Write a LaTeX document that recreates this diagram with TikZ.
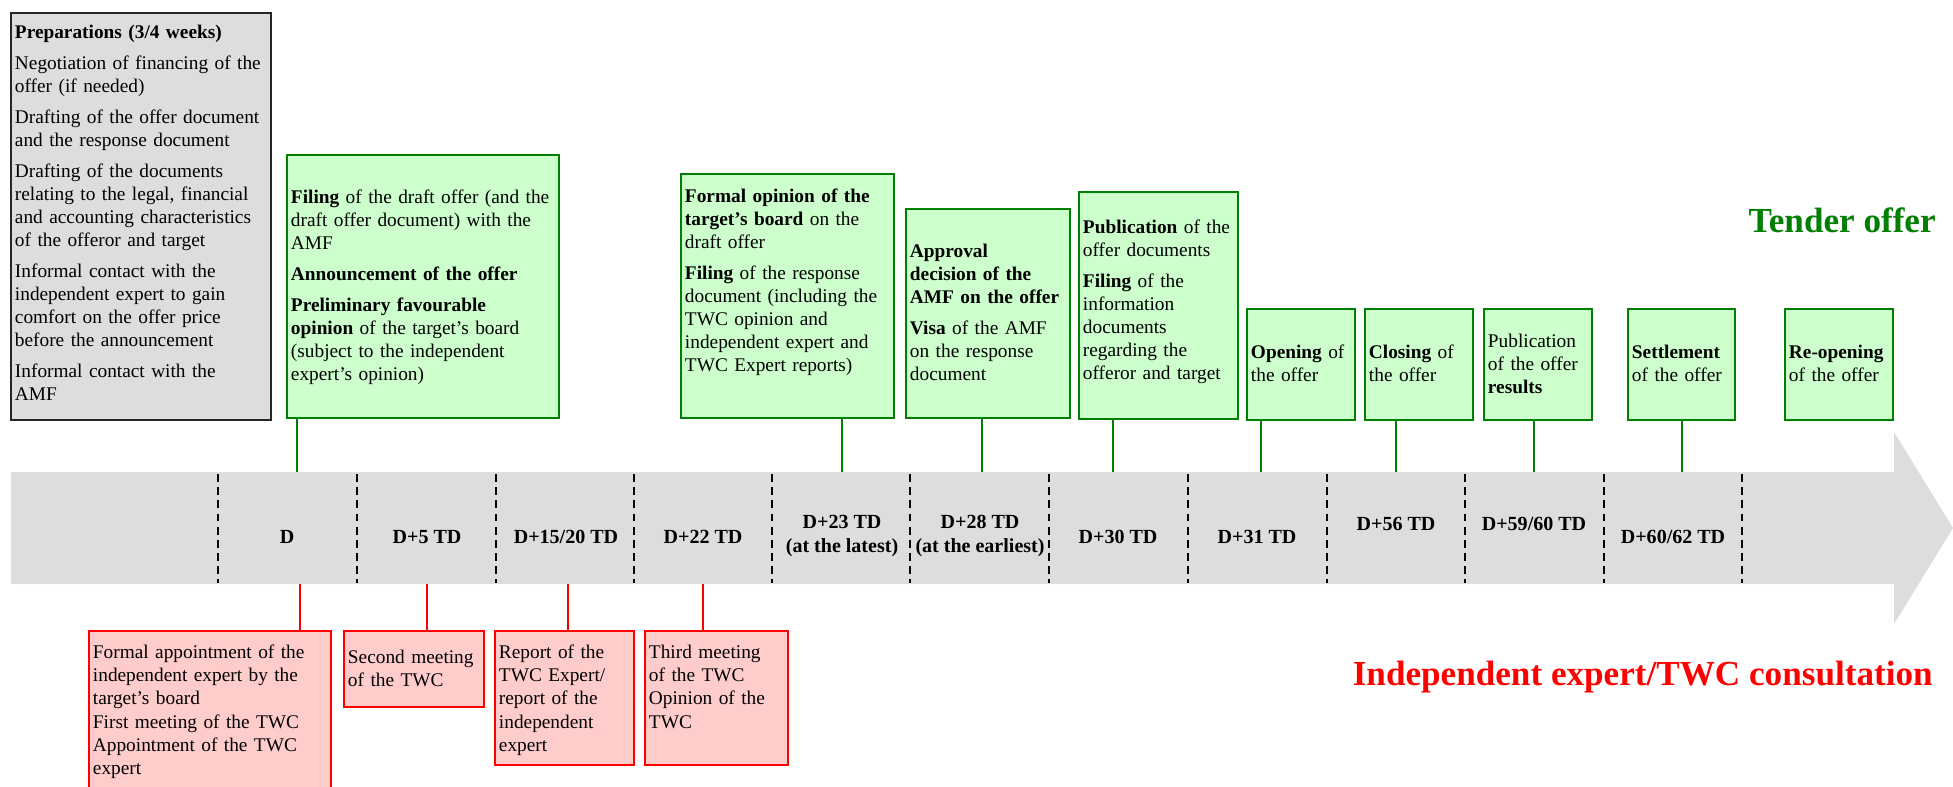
\documentclass[tikz,border=0pt]{standalone}
\usepackage{fontspec}
\setmainfont{Liberation Serif}
\definecolor{TenderGreen}{HTML}{008000}
\definecolor{TenderFill}{HTML}{CCFFCC}
\definecolor{ExpertRed}{HTML}{FF0000}
\definecolor{ExpertFill}{HTML}{FFCCCC}
\definecolor{PrepFill}{HTML}{DDDDDD}
\definecolor{BandGrey}{HTML}{DDDDDD}
\newcommand{\boxfont}{\fontsize{11}{13.1}\selectfont}
\tikzset{
prepbox/.style={draw=black!85, line width=1.1pt, fill=PrepFill, align=left, anchor=north west, inner xsep=0.08cm, inner ysep=0pt, font=\boxfont},
tenderbox/.style={draw=TenderGreen, line width=1.1pt, fill=TenderFill, align=left, anchor=north west, inner xsep=0.08cm, inner ysep=0pt, font=\boxfont},
tendersmall/.style={tenderbox, text width=2.00cm, text height=1.00cm, text depth=1.22cm},
expertbox/.style={draw=ExpertRed, line width=1.1pt, fill=ExpertFill, align=left, anchor=north west, inner xsep=0.08cm, inner ysep=0pt, font=\boxfont},
tenderlink/.style={draw=TenderGreen, line width=1.1pt},
expertlink/.style={draw=ExpertRed, line width=1.1pt},
daysep/.style={draw=black, line width=1pt, dash pattern=on 4.5pt off 3pt},
daylabel/.style={font={\fontsize{11.4}{13.4}\selectfont\bfseries}, align=center, inner sep=0pt},
headline/.style={font={\fontsize{20}{24}\selectfont\bfseries}, inner sep=0pt, anchor=base east}
}

\begin{document}
\begin{tikzpicture}[x=0.02cm, y=-0.02cm]
  \useasboundingbox (0,0) rectangle (1953,787);
  \clip (0,0) rectangle (1953,787);
  % timeline band
  \fill[BandGrey] (11,472) -- (1894,472) -- (1894,432) -- (1953,528) -- (1894,624) -- (1894,584) -- (11,584) -- cycle;
  \foreach \x in {218,357,496,634,772,910,1049,1188,1327,1465,1604,1742}
    \draw[daysep] (\x,474) -- (\x,583);
  \node[daylabel] (dD) at (287,537) {D};
  \node[daylabel] (d5) at (427,537) {D+5 TD};
  \node[daylabel] (d15) at (566,537) {D+15/20 TD};
  \node[daylabel] (d22) at (703,537) {D+22 TD};
  \node[daylabel] (d23) at (842,536) {D+23 TD\\(at the latest)};
  \node[daylabel] (d28) at (980,536) {D+28 TD\\(at the earliest)};
  \node[daylabel] (d30) at (1118,537) {D+30 TD};
  \node[daylabel] (d31) at (1257,537) {D+31 TD};
  \node[daylabel] (d56) at (1396,524) {D+56 TD};
  \node[daylabel] (d59) at (1534,524) {D+59/60 TD};
  \node[daylabel] (d60) at (1673,537) {D+60/62 TD};
  % preparations
  \node[prepbox, text width=5.04cm, text height=0.52cm, text depth=7.62cm] (prep) at (10,12) {\textbf{Preparations (3/4 weeks)}\\[4.5pt]
    Negotiation of financing of the\\offer (if needed)\\[4.5pt]
    Drafting of the offer document\\and the response document\\[4.5pt]
    Drafting of the documents\\relating to the legal, financial\\and accounting characteristics\\of the offeror and target\\[4.5pt]
    Informal contact with the\\independent expert to gain\\comfort on the offer price\\before the announcement\\[4.5pt]
    Informal contact with the\\AMF};
  % tender offer steps
  \node[tenderbox, text width=5.28cm, text height=0.98cm, text depth=4.28cm] (filing) at (286,154) {\textbf{Filing} of the draft offer (and the\\draft offer document) with the\\AMF\\[4.5pt]
    \textbf{Announcement of the offer}\\[4.5pt]
    \textbf{Preliminary favourable}\\\textbf{opinion} of the target's board\\(subject to the independent\\expert's opinion)};
  \node[tenderbox, text width=4.10cm, text height=0.58cm, text depth=4.30cm] (formal) at (680,173) {\textbf{Formal opinion of the}\\\textbf{target's board} on the\\draft offer\\[4.5pt]
    \textbf{Filing} of the response\\document (including the\\TWC opinion and\\independent expert and\\TWC Expert reports)};
  \node[tenderbox, text width=3.12cm, text height=0.98cm, text depth=3.20cm] (approval) at (905,208) {\textbf{Approval}\\\textbf{decision of the}\\\textbf{AMF on the offer}\\[4.5pt]
    \textbf{Visa} of the AMF\\on the response\\document};
  \node[tenderbox, text width=3.02cm, text height=0.84cm, text depth=3.70cm] (publish) at (1078,191) {\textbf{Publication} of the\\offer documents\\[4.5pt]
    \textbf{Filing} of the\\information\\documents\\regarding the\\offeror and target};
  \node[tendersmall] (opening) at (1246,308) {\textbf{Opening} of\\the offer};
  \node[tendersmall] (closing) at (1364,308) {\textbf{Closing} of\\the offer};
  \node[tendersmall, text height=0.78cm, text depth=1.44cm] (results) at (1483,308) {Publication\\of the offer\\\textbf{results}};
  \node[tendersmall, text width=1.98cm] (settle) at (1627,308) {\textbf{Settlement}\\of the offer};
  \node[tendersmall] (reopen) at (1784,308) {\textbf{Re-opening}\\of the offer};
  \node[headline, text=TenderGreen] (tenderhead) at (1936,233) {Tender offer};
  % independent expert / TWC
  \node[expertbox, text width=4.68cm, text height=0.56cm, text depth=2.84cm] (appoint) at (88,630) {Formal appointment of the\\independent expert by the\\target's board\\First meeting of the TWC\\Appointment of the TWC\\expert};
  \node[expertbox, text width=2.64cm, text height=0.66cm, text depth=0.86cm] (second) at (343,630) {Second meeting\\of the TWC};
  \node[expertbox, text width=2.62cm, text height=0.56cm, text depth=2.12cm] (report) at (494,630) {Report of the\\TWC Expert/\\report of the\\independent\\expert};
  \node[expertbox, text width=2.70cm, text height=0.56cm, text depth=2.12cm] (third) at (644,630) {Third meeting\\of the TWC\\Opinion of the\\TWC};
  \node[headline, text=ExpertRed] (experthead) at (1933,685) {Independent expert/TWC consultation};
  % links to the band
  \coordinate (gFiling) at (297,472);
  \coordinate (gFormal) at (842,472);
  \coordinate (gApproval) at (982,472);
  \coordinate (gPublish) at (1113,472);
  \coordinate (gOpen) at (1261,472);
  \coordinate (gClose) at (1396,472);
  \coordinate (gResult) at (1534,472);
  \coordinate (gSettle) at (1682,472);
  \draw[tenderlink] (filing.south -| gFiling) -- (gFiling);
  \draw[tenderlink] (formal.south -| gFormal) -- (gFormal);
  \draw[tenderlink] (approval.south -| gApproval) -- (gApproval);
  \draw[tenderlink] (publish.south -| gPublish) -- (gPublish);
  \draw[tenderlink] (opening.south -| gOpen) -- (gOpen);
  \draw[tenderlink] (closing.south -| gClose) -- (gClose);
  \draw[tenderlink] (results.south -| gResult) -- (gResult);
  \draw[tenderlink] (settle.south -| gSettle) -- (gSettle);
  \coordinate (rAppoint) at (300,584);
  \coordinate (rSecond) at (427,584);
  \coordinate (rReport) at (568,584);
  \coordinate (rThird) at (703,584);
  \draw[expertlink] (rAppoint) -- (appoint.north -| rAppoint);
  \draw[expertlink] (rSecond) -- (second.north -| rSecond);
  \draw[expertlink] (rReport) -- (report.north -| rReport);
  \draw[expertlink] (rThird) -- (third.north -| rThird);
\end{tikzpicture}
\end{document}
